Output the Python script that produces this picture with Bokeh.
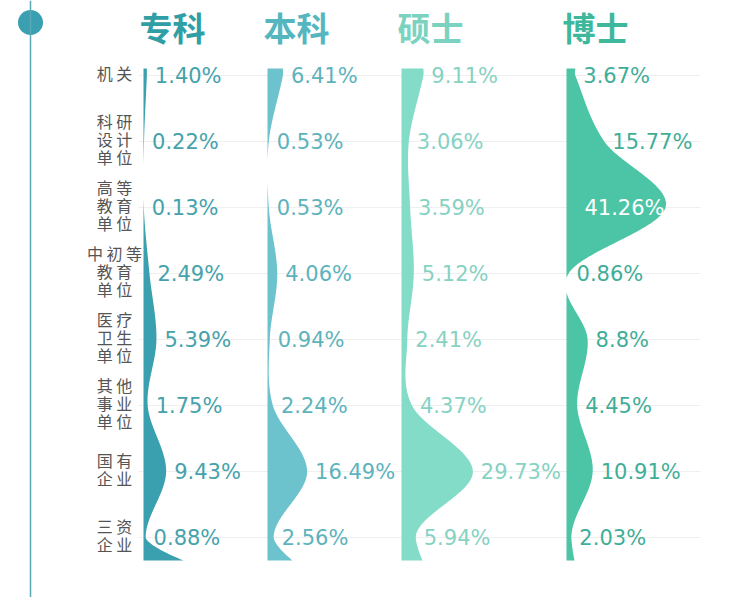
import numpy as np
from bokeh.plotting import figure
from bokeh.models import Range1d, Span
from bokeh.core.properties import value
from bokeh.embed import file_html
from bokeh.resources import INLINE

# ---------------- data ----------------
categories = ["机关", "科研设计单位", "高等教育单位", "中初等教育单位",
              "医疗卫生单位", "其他事业单位", "国有企业", "三资企业"]
degrees = ["专科", "本科", "硕士", "博士"]
zhuanke = ["1.40", "0.22", "0.13", "2.49", "5.39", "1.75", "9.43", "0.88"]
benke = ["6.41", "0.53", "0.53", "4.06", "0.94", "2.24", "16.49", "2.56"]
shuoshi = ["9.11", "3.06", "3.59", "5.12", "2.41", "4.37", "29.73", "5.94"]
boshi = ["3.67", "15.77", "41.26", "0.86", "8.8", "4.45", "10.91", "2.03"]
series = [zhuanke, benke, shuoshi, boshi]

# ---------------- layout / style ----------------
W, H = 744, 597
ROW0_PX, PITCH_PX = 75, 66          # pixel y of first row, row pitch
bases = [143, 267, 401, 566]        # column baselines (px)
foot_px = [40, 25, 21, 8]           # decorative flare at the foot of each shape
K = 2.4                             # px per percent
shape_colors = ["#3a9fae", "#6cc2cd", "#82dcc8", "#4cc4a6"]
label_colors = ["#45a2ac", "#5cb3bc", "#86d2c3", "#3fae97"]
head_colors = ["#2f9ea5", "#55b6c0", "#7bd3bf", "#3db89c"]
CJK = "Noto Sans CJK SC"
NUM = "DejaVu Sans"

def py(pix):
    return (pix - ROW0_PX) / PITCH_PX

p = figure(width=W, height=H, output_backend="svg", toolbar_location=None,
           x_range=Range1d(0, W), y_range=Range1d(py(H), py(0)),
           min_border=0, background_fill_color="#ffffff",
           border_fill_color="#ffffff")
p.axis.visible = False
p.grid.visible = False
p.outline_line_color = None

n = len(categories)
rows = np.arange(n, dtype=float)

# faint row guides
p.segment(x0=[138] * n, x1=[700] * n, y0=rows, y1=rows,
          line_color="#efefef", line_width=1)

# left timeline
p.add_layout(Span(location=30, dimension="height", line_color="#5aa9b6", line_width=1.5))
p.scatter(x=[30], y=[py(22)], size=25, marker="circle",
          fill_color="#3a9fb0", line_color=None)

def smooth(ys, ws, grid):
    ys = np.asarray(ys, float); ws = np.asarray(ws, float)
    m = np.zeros_like(ws)
    for i in range(1, len(ws) - 1):
        m[i] = (ws[i + 1] - ws[i - 1]) / (ys[i + 1] - ys[i - 1])
    out = np.empty_like(grid)
    for j, g in enumerate(grid):
        i = min(max(np.searchsorted(ys, g) - 1, 0), len(ys) - 2)
        h = ys[i + 1] - ys[i]
        t = (g - ys[i]) / h
        h00 = 2 * t**3 - 3 * t**2 + 1
        h10 = t**3 - 2 * t**2 + t
        h01 = -2 * t**3 + 3 * t**2
        h11 = t**3 - t**2
        out[j] = h00 * ws[i] + h10 * h * m[i] + h01 * ws[i + 1] + h11 * h * m[i + 1]
    return np.clip(out, 0, None)

top_y, bot_y = py(68), py(560)
for c, (deg, vals) in enumerate(zip(degrees, series)):
    v = np.array([float(s) for s in vals])
    w = K * v
    ys = np.concatenate([[top_y], rows])
    ws = np.concatenate([[w[0]], w])
    grid = np.linspace(top_y, rows[-1], 400)
    wg = smooth(ys, ws, grid)
    # foot flare below the last row
    fy = np.linspace(rows[-1], bot_y, 30)
    t = (fy - rows[-1]) / (bot_y - rows[-1])
    fw = w[-1] + (foot_px[c] - w[-1]) * t**1.5
    grid = np.concatenate([grid, fy[1:]])
    wg = np.concatenate([wg, fw[1:]])
    base = bases[c]
    p.harea(x1=np.full_like(grid, base), x2=base + wg, y=grid,
            fill_color=shape_colors[c])

    # value labels
    out_x, out_t, out_y = [], [], []
    in_x, in_t, in_y = [], [], []
    for i, s in enumerate(vals):
        if w[i] > 90:
            in_x.append(base + w[i] - 1); in_t.append(s + "%"); in_y.append(i)
        else:
            out_x.append(base + w[i] + 8); out_t.append(s + "%"); out_y.append(i)
    p.text(x=out_x, y=out_y, text=out_t, text_font=value(NUM), text_font_size="21px",
           text_color=label_colors[c], text_align="left", text_baseline="middle")
    if in_x:
        p.text(x=in_x, y=in_y, text=in_t, text_font=value(NUM), text_font_size="21px",
               text_color="#ffffff", text_align="right", text_baseline="middle")

    # header
    p.text(x=[base + 29], y=[py(26)], text=[deg], text_font=value(CJK),
           text_font_size="33px", text_font_style="bold", text_color=head_colors[c],
           text_align="center", text_baseline="middle")

# category labels stacked
def stack(name):
    chunks = []
    s = name
    if len(s) % 2 == 1 and len(s) > 2:
        chunks.append(s[:3]); s = s[3:]
    while s:
        chunks.append(s[:2]); s = s[2:]
    return "\n".join(" ".join(ch) for ch in chunks)

p.text(x=[114] * n, y=rows - 0.04, text=[stack(c) for c in categories],
       text_font=value(CJK), text_font_size="16px", text_color="#555555",
       text_align="center", text_baseline="middle", text_line_height=0.75)

open("out.html", "w").write(file_html(p, INLINE))
